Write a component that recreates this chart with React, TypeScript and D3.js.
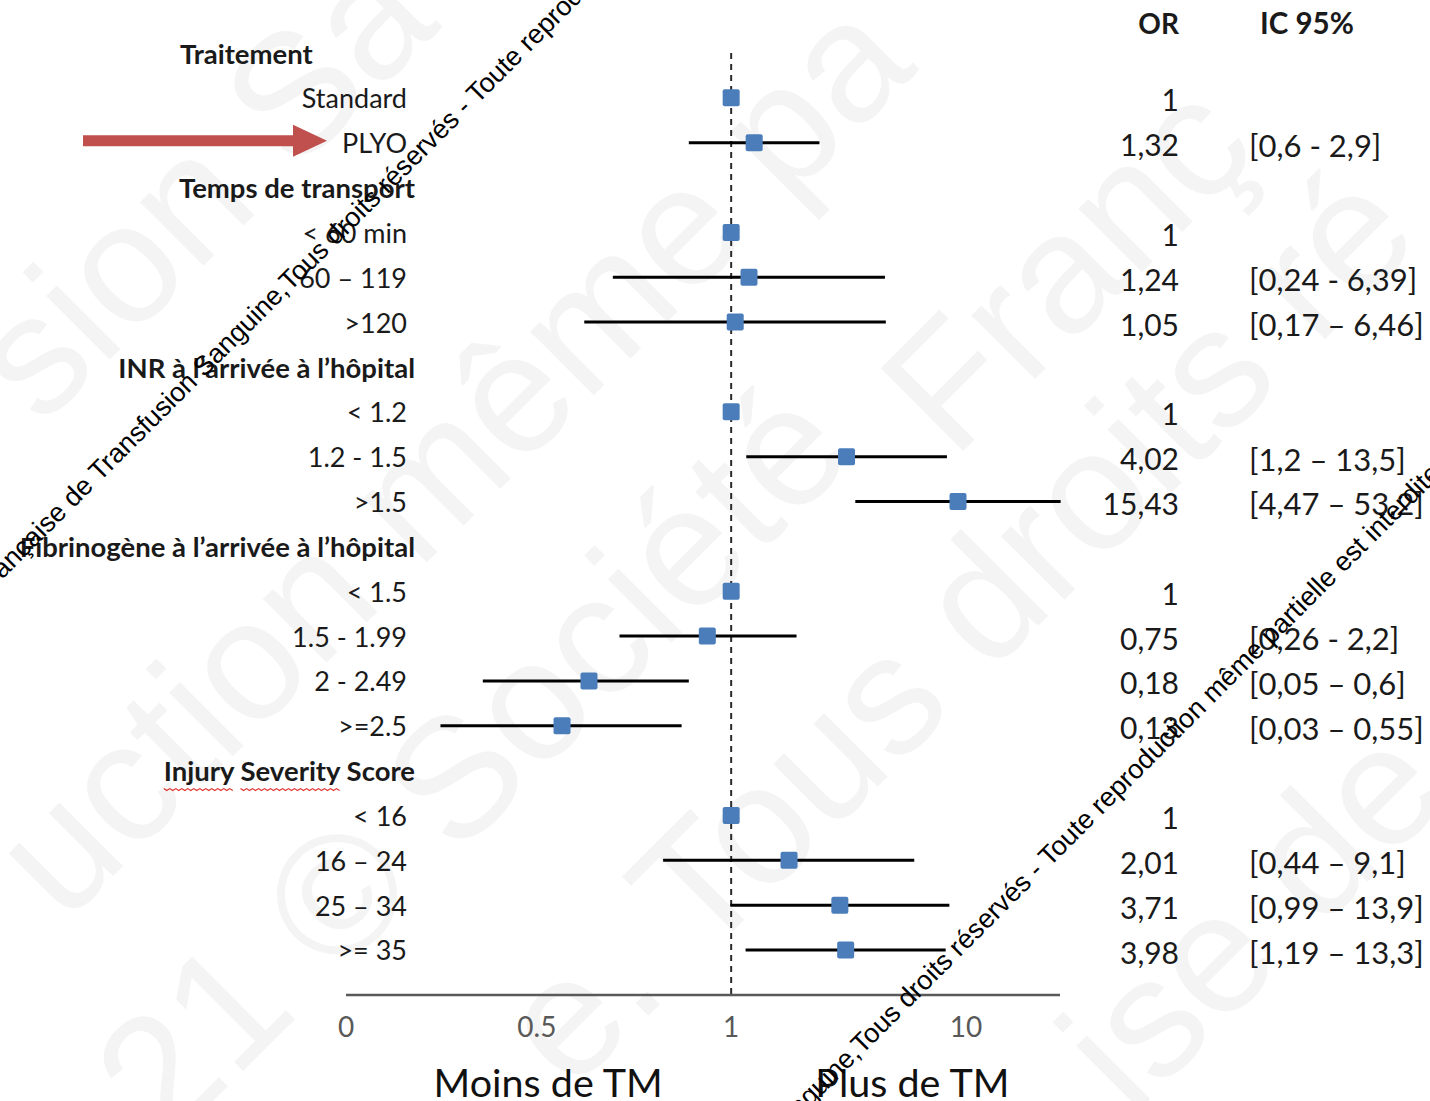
import { useEffect, useRef } from "react";
import * as d3 from "d3";

// Row structure of the forest plot
const groupNames = [
  "Traitement",
  "Temps de transport",
  "INR à l’arrivée à l’hôpital",
  "Fibrinogène à l’arrivée à l’hôpital",
  "Injury Severity Score",
];
const groupLevels = [
  ["Standard", "PLYO"],
  ["< 60 min", "60 – 119", ">120"],
  ["< 1.2", "1.2 - 1.5", ">1.5"],
  ["< 1.5", "1.5 - 1.99", "2 - 2.49", ">=2.5"],
  ["< 16", "16 – 24", "25 – 34", ">= 35"],
];

// One value per level, in the same order as groupLevels flattened
const oddsRatios = [1, 1.32, 1, 1.24, 1.05, 1, 4.02, 15.43, 1, 0.75, 0.18, 0.13, 1, 2.01, 3.71, 3.98];
const ciLow = [null, 0.6, null, 0.24, 0.17, null, 1.2, 4.47, null, 0.26, 0.05, 0.03, null, 0.44, 0.99, 1.19];
const ciHigh = [null, 2.9, null, 6.39, 6.46, null, 13.5, 53.2, null, 2.2, 0.6, 0.55, null, 9.1, 13.9, 13.3];
const orLabels = ["1", "1,32", "1", "1,24", "1,05", "1", "4,02", "15,43", "1", "0,75", "0,18", "0,13", "1", "2,01", "3,71", "3,98"];
const ciLabels = [
  "", "[0,6 - 2,9]",
  "", "[0,24 - 6,39]", "[0,17 – 6,46]",
  "", "[1,2 – 13,5]", "[4,47 – 53,2]",
  "", "[0,26 - 2,2]", "[0,05 – 0,6]", "[0,03 – 0,55]",
  "", "[0,44 – 9,1]", "[0,99 – 13,9]", "[1,19 – 13,3]",
];
const columnHeaders = ["OR", "IC 95%"];

// axis (the printed labels sit at these OR positions in the source picture)
const axisDomain = [0.0096, 52.8];
const tickLabels = ["0", "0.5", "1", "10"];
const tickAt = [0.0096, 0.096, 1, 17];
const sideLabels = ["Moins de TM", "Plus de TM"];
const sideAt = [0.11, 8.9];

const WIDTH = 1430;
const HEIGHT = 1101;
const FONT = "Lato, 'Open Sans', sans-serif";
const WM_FONT = "'Liberation Sans', Arial, sans-serif";

export default function App() {
  const ref = useRef<SVGSVGElement | null>(null);

  useEffect(() => {
    document.body.style.margin = "0";
    if (!ref.current) return;
    const svg = d3.select(ref.current);
    svg.selectAll("*").remove();

    // 1) faint background watermark
    const bigMarks: [string, number, number][] = [
      ["sion Sa", 200, 185],
      ["uction même pa", 450, 455],
      ["21 © Société", 470, 760],
      ["Franç", 1065, 265],
      ["e. Tous droits ré", 955, 625],
      ["ise de", 1250, 915],
    ];
    svg
      .append("g")
      .selectAll("text")
      .data(bigMarks)
      .join("text")
      .attr("transform", (d) => `translate(${d[1]},${d[2]}) rotate(-45)`)
      .attr("text-anchor", "middle")
      .attr("dy", "0.35em")
      .attr("font-family", WM_FONT)
      .attr("font-size", 170)
      .attr("fill", "#f4f4f4")
      .text((d) => d[0]);

    // 2) rows
    const rows: { kind: "header" | "level"; label: string; idx: number }[] = [];
    let k = 0;
    groupNames.forEach((g, gi) => {
      rows.push({ kind: "header", label: g, idx: gi });
      groupLevels[gi].forEach((lv) => {
        rows.push({ kind: "level", label: lv, idx: k++ });
      });
    });

    const y = d3
      .scalePoint<number>()
      .domain(d3.range(rows.length))
      .range([53, 950]);
    const step = y.step();

    const x = d3.scaleLog().base(2).domain(axisDomain).range([346, 1060]);

    // labels on the left
    const labelG = svg.append("g").attr("font-family", FONT).attr("fill", "#1a1a1a");
    rows.forEach((r, i) => {
      const t = labelG
        .append("text")
        .attr("y", y(i)! + 1)
        .attr("dy", "0.35em")
        .text(r.label);
      if (r.kind === "header") {
        t.attr("font-weight", "bold").attr("font-size", 27.5);
        if (r.idx === 0) t.attr("x", 180).attr("text-anchor", "start");
        else t.attr("x", 415).attr("text-anchor", "end");
        // spell-check squiggle under the last header
        if (r.idx === groupNames.length - 1) {
          const node = t.node() as SVGTextElement;
          const box = node.getBBox();
          const words = r.label.split(" ");
          let offset = 0;
          words.slice(0, 2).forEach((w) => {
            const start = node.getSubStringLength(0, offset);
            const len = node.getSubStringLength(offset, w.length);
            const x0 = box.x + start;
            const yy = y(i)! + 18;
            const pts: [number, number][] = d3
              .range(0, Math.floor(len / 3) + 1)
              .map((j) => [x0 + j * 3, yy + (j % 2 === 0 ? 0 : 2)]);
            labelG
              .append("path")
              .attr("d", d3.line()(pts))
              .attr("fill", "none")
              .attr("stroke", "#e0312b")
              .attr("stroke-width", 1.2);
            offset += w.length + 1;
          });
        }
      } else {
        t.attr("x", 407).attr("text-anchor", "end").attr("font-size", 27);
      }
    });

    // red arrow pointing at PLYO
    const plyoRow = rows.findIndex((r) => r.label === "PLYO");
    const ay = y(plyoRow)! - 2;
    svg
      .append("path")
      .attr(
        "d",
        `M83,${ay - 5.5} L293,${ay - 5.5} L293,${ay - 16} L327,${ay} L293,${ay + 16} L293,${ay + 5.5} L83,${ay + 5.5} Z`
      )
      .attr("fill", "#c0504d");

    // 3) reference line at OR = 1
    svg
      .append("line")
      .attr("x1", x(1))
      .attr("x2", x(1))
      .attr("y1", y(0)!)
      .attr("y2", 995)
      .attr("stroke", "#2b2b2b")
      .attr("stroke-width", 2)
      .attr("stroke-dasharray", "6,5");

    // axis line + labels
    svg
      .append("line")
      .attr("x1", x(axisDomain[0]))
      .attr("x2", x(axisDomain[1]))
      .attr("y1", 995)
      .attr("y2", 995)
      .attr("stroke", "#595959")
      .attr("stroke-width", 2.5);

    svg
      .append("g")
      .selectAll("text")
      .data(tickLabels)
      .join("text")
      .attr("x", (_, i) => x(tickAt[i]))
      .attr("y", 1037)
      .attr("text-anchor", "middle")
      .attr("font-family", FONT)
      .attr("font-size", 28)
      .attr("fill", "#595959")
      .text((d) => d);

    svg
      .append("g")
      .selectAll("text")
      .data(sideLabels)
      .join("text")
      .attr("x", (_, i) => x(sideAt[i]))
      .attr("y", 1097)
      .attr("text-anchor", "middle")
      .attr("font-family", FONT)
      .attr("font-size", 39.5)
      .attr("fill", "#111")
      .text((d) => d);

    // 4) CI whiskers and point estimates
    const levelRows = rows
      .map((r, i) => ({ ...r, row: i }))
      .filter((r) => r.kind === "level");

    svg
      .append("g")
      .selectAll("line")
      .data(levelRows.filter((r) => ciLow[r.idx] != null))
      .join("line")
      .attr("x1", (d) => x(ciLow[d.idx] as number))
      .attr("x2", (d) => x(ciHigh[d.idx] as number))
      .attr("y1", (d) => y(d.row)!)
      .attr("y2", (d) => y(d.row)!)
      .attr("stroke", "#000")
      .attr("stroke-width", 3);

    const sq = 17;
    svg
      .append("g")
      .selectAll("rect")
      .data(levelRows)
      .join("rect")
      .attr("x", (d) => x(oddsRatios[d.idx]) - sq / 2)
      .attr("y", (d) => y(d.row)! - sq / 2)
      .attr("width", sq)
      .attr("height", sq)
      .attr("rx", 2)
      .attr("fill", "#4a7dba");

    // 5) OR and CI columns
    const colG = svg.append("g").attr("font-family", FONT).attr("fill", "#1a1a1a");
    colG
      .append("text")
      .attr("x", 1179)
      .attr("y", y(0)! - step * 0.65)
      .attr("dy", "0.35em")
      .attr("text-anchor", "end")
      .attr("font-size", 28)
      .attr("font-weight", "bold")
      .text(columnHeaders[0]);
    colG
      .append("text")
      .attr("x", 1260)
      .attr("y", y(0)! - step * 0.65)
      .attr("dy", "0.35em")
      .attr("font-size", 29.5)
      .attr("font-weight", "bold")
      .text(columnHeaders[1]);

    colG
      .selectAll(".or")
      .data(levelRows)
      .join("text")
      .attr("class", "or")
      .attr("x", 1179)
      .attr("y", (d) => y(d.row)! + 3)
      .attr("dy", "0.35em")
      .attr("text-anchor", "end")
      .attr("font-size", 30)
      .text((d) => orLabels[d.idx]);

    colG
      .selectAll(".ci")
      .data(levelRows)
      .join("text")
      .attr("class", "ci")
      .attr("x", 1249)
      .attr("y", (d) => y(d.row)! + 3)
      .attr("dy", "0.35em")
      .attr("font-size", 31)
      .text((d) => ciLabels[d.idx]);

    // 6) black diagonal copyright lines
    const before = "© Société Française de Transfusion Sanguine, ";
    const after = "Tous droits réservés - Toute reproduction même partielle est interdite";
    const anchors: [number, number][] = [
      [290, 292],
      [862, 1055],
    ];
    const wm = svg
      .append("g")
      .attr("font-family", WM_FONT)
      .attr("font-size", 27)
      .attr("fill", "#000");
    anchors.forEach(([ax, ayy]) => {
      wm.append("text")
        .attr("transform", `translate(${ax},${ayy}) rotate(-45)`)
        .attr("text-anchor", "end")
        .text(before);
      wm.append("text")
        .attr("transform", `translate(${ax},${ayy}) rotate(-45)`)
        .attr("text-anchor", "start")
        .text(after);
    });
  }, []);

  return (
    <svg
      ref={ref}
      width={WIDTH}
      height={HEIGHT}
      style={{ display: "block", background: "#fff" }}
    />
  );
}
